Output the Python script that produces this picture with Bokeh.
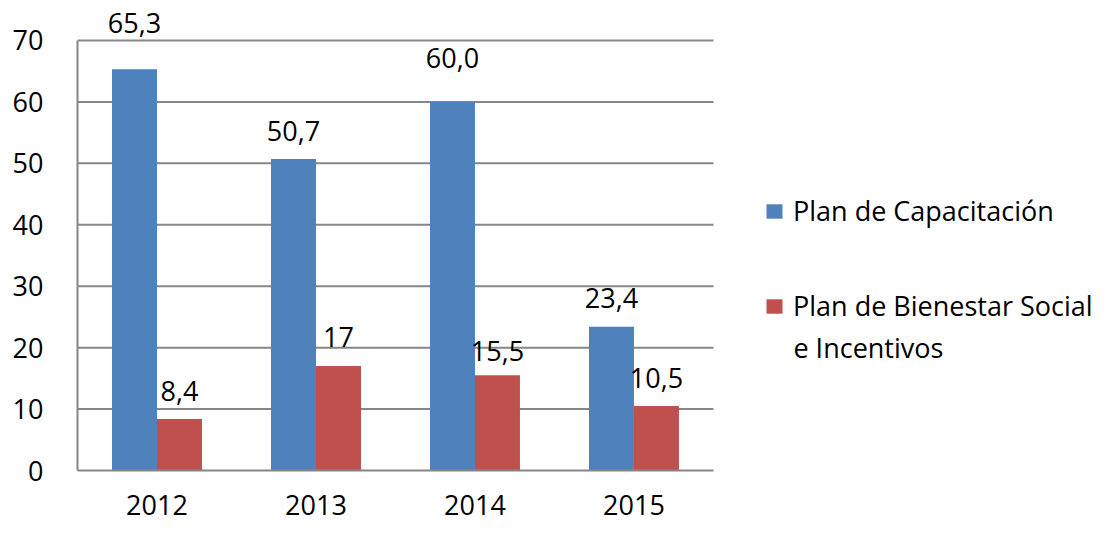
from bokeh.plotting import figure
from bokeh.models import ColumnDataSource, Legend, LegendItem, Range1d, FixedTicker, Label
from bokeh.transform import dodge
from bokeh.core.properties import value
from bokeh.embed import file_html
from bokeh.resources import INLINE

years = ["2012", "2013", "2014", "2015"]
capacitacion = [65.3, 50.7, 60.0, 23.4]
bienestar = [8.4, 17.0, 15.5, 10.5]
cap_labels = ["65,3", "50,7", "60,0", "23,4"]
bien_labels = ["8,4", "17", "15,5", "10,5"]
y_ticks = [0, 10, 20, 30, 40, 50, 60, 70]
series_names = ["Plan de Capacitación", "Plan de Bienestar Social"]
series_name2_cont = "e Incentivos"

# label offsets above bar tops (px), style only
cap_off = [-46, -28, -44, -29]
bien_off = [-28, -29, -24, -28]

FONT = "Open Sans"
FS = "27px"
GRID = "#868686"
BLUE = "#4F81BD"
RED = "#C0504D"

xpos = [i + 0.5 for i in range(len(years))]
src = ColumnDataSource(dict(x=xpos, cap=capacitacion, bien=bienestar,
                            cap_lab=cap_labels, bien_lab=bien_labels,
                            cap_off=cap_off, bien_off=bien_off))

p = figure(width=1102, height=521, x_range=Range1d(0, 6.447), y_range=Range1d(0, 76.51),
           output_backend="svg", toolbar_location=None,
           min_border_left=77, min_border_right=0, min_border_top=0, min_border_bottom=51)
p.outline_line_color = None
p.background_fill_color = "white"
p.xgrid.grid_line_color = None
p.ygrid.grid_line_color = None

# horizontal gridlines limited to the category area
gx0 = [0] * (len(y_ticks) - 1)
gx1 = [len(years)] * (len(y_ticks) - 1)
p.segment(x0=gx0, x1=gx1, y0=y_ticks[1:], y1=y_ticks[1:], line_color=GRID, line_width=2)

r1 = p.vbar(x=dodge("x", -0.1415), top="cap", width=0.283, source=src,
            fill_color=BLUE, line_color=None)
r2 = p.vbar(x=dodge("x", 0.1415), top="bien", width=0.283, source=src,
            fill_color=RED, line_color=None)

p.text(x=dodge("x", -0.1415), y="cap", text="cap_lab", y_offset="cap_off",
       source=src, text_align="center", text_baseline="middle",
       text_font=value(FONT), text_font_size=FS, text_color="black")
p.text(x=dodge("x", 0.1415), y="bien", text="bien_lab", y_offset="bien_off",
       source=src, text_align="center", text_baseline="middle",
       text_font=value(FONT), text_font_size=FS, text_color="black")

p.yaxis.ticker = FixedTicker(ticks=y_ticks)
p.yaxis.bounds = (y_ticks[0], y_ticks[-1])
p.xaxis.ticker = FixedTicker(ticks=xpos)
p.xaxis.major_label_overrides = {x: y for x, y in zip(xpos, years)}
p.xaxis.bounds = (0, len(years))

for ax in (p.xaxis, p.yaxis):
    ax.axis_line_color = GRID
    ax.axis_line_width = 2
    ax.major_tick_line_color = None
    ax.minor_tick_line_color = None
    ax.major_tick_out = 0
    ax.major_tick_in = 0
    ax.major_label_text_font = FONT
    ax.major_label_text_font_size = FS
    ax.major_label_text_color = "black"
p.yaxis.major_label_standoff = 34
p.xaxis.major_label_standoff = 24

legend = Legend(items=[LegendItem(label=series_names[0], renderers=[r1]),
                       LegendItem(label=series_names[1], renderers=[r2])],
                location=(687, 146), orientation="vertical",
                glyph_width=20, glyph_height=18, label_standoff=9,
                label_text_font=FONT, label_text_font_size=FS,
                label_text_color="black", spacing=58,
                padding=0, margin=0, border_line_color=None, background_fill_alpha=0)
p.add_layout(legend, "center")

p.add_layout(Label(x=4.503, y=20.02, text=series_name2_cont, text_font=FONT,
                   text_font_size=FS, text_color="black", text_baseline="middle",
                   text_align="left"))

open("out.html", "w").write(file_html(p, INLINE))
